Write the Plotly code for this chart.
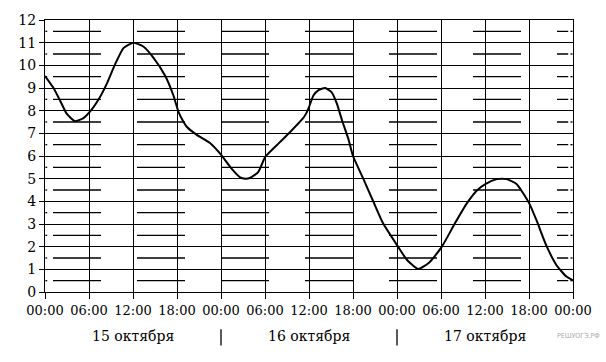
import plotly.graph_objects as go

# Data (hours since 00:00, 15 October) and temperature values
hours = [0, 1.1, 2.05, 2.95, 4.05, 5.2, 6.3, 7.5, 8.4, 9.55, 10.7, 12.05, 13.4, 14.8, 16.4,
         17.5, 18.2, 18.9, 19.3, 20.7, 22.5, 24.1, 25.5, 26.6, 27.3, 28.0, 29.1, 30.05, 32.0,
         33.4, 35.2, 35.6, 36.0, 36.6, 37.3, 38.2, 39.1, 39.8, 40.5, 41.4, 42.0, 43.4, 44.8,
         46.1, 48.1, 49.4, 50.9, 52.4, 54.1, 55.9, 57.5, 58.9, 60.1, 61.6, 62.3, 62.96, 64.3,
         66.05, 67.1, 68.4, 69.8, 71.1, 72.0]
values = [9.53, 9.03, 8.45, 7.87, 7.54, 7.66, 8.02, 8.6, 9.17, 10.04, 10.76, 11.0, 10.83, 10.33, 9.53,
          8.68, 7.95, 7.5, 7.3, 6.93, 6.57, 6.02, 5.42, 5.06, 5.0, 5.04, 5.3, 5.97, 6.6,
          7.05, 7.67, 7.87, 8.16, 8.67, 8.91, 9.0, 8.81, 8.31, 7.58, 6.72, 6.0, 5.0, 3.97,
          3.03, 2.02, 1.4, 1.02, 1.3, 1.99, 3.03, 3.9, 4.48, 4.77, 4.98, 5.0, 4.98, 4.77,
          3.9, 3.1, 2.02, 1.16, 0.68, 0.51]

tick_hours = list(range(0, 73, 6))
tick_labels = ["00:00", "06:00", "12:00", "18:00"] * 3 + ["00:00"]
day_labels = ["15 октября", "16 октября", "17 октября"]
day_centers = [12, 36, 60]
day_bounds = [24, 48]
half_levels = [i + 0.5 for i in range(12)]

FONT = "DejaVu Serif"
fig = go.Figure()

# half-unit dashed guide lines
for v in half_levels:
    fig.add_trace(go.Scatter(x=[1.09, 71.35], y=[v, v], mode="lines",
                             line=dict(color="black", width=1.3, dash="48px,36px"),
                             hoverinfo="skip", showlegend=False))
    fig.add_trace(go.Scatter(x=[0.05, 0.3, None, 71.65, 71.95], y=[v, v, None, v, v], mode="lines",
                             line=dict(color="black", width=1.3),
                             hoverinfo="skip", showlegend=False))

fig.add_trace(go.Scatter(x=hours, y=values, mode="lines",
                         line=dict(color="black", width=2, shape="spline", smoothing=0.5),
                         hoverinfo="skip", showlegend=False))

fig.update_layout(
    width=606, height=362,
    margin=dict(l=45, r=33, t=14, b=70),
    paper_bgcolor="white", plot_bgcolor="white",
    font=dict(family=FONT, size=14, color="black"),
    showlegend=False,
)
fig.update_xaxes(range=[0, 72], tickvals=tick_hours, ticktext=tick_labels,
                 showgrid=True, gridcolor="black", gridwidth=1.3,
                 showline=True, linecolor="black", linewidth=1.3, mirror=True,
                 ticks="outside", ticklen=6, tickcolor="black", tickwidth=1.3,
                 zeroline=False, tickfont=dict(family=FONT, size=13, color="black"))
fig.update_yaxes(range=[0, 12], tickvals=list(range(0, 13)),
                 showgrid=True, gridcolor="black", gridwidth=1.3,
                 showline=True, linecolor="black", linewidth=1.3, mirror=True,
                 ticks="outside", ticklen=5, tickcolor="black", tickwidth=1.3,
                 zeroline=False, tickfont=dict(family=FONT, size=14, color="black"))

for lbl, c in zip(day_labels, day_centers):
    fig.add_annotation(x=c, y=-0.162, xref="x", yref="paper", text=lbl, showarrow=False,
                       xanchor="center", yanchor="middle",
                       font=dict(family=FONT, size=14, color="black"))
for b in day_bounds:
    fig.add_shape(type="line", x0=b, x1=b, xref="x", y0=-0.197, y1=-0.137, yref="paper",
                  line=dict(color="black", width=1.3))

fig.add_annotation(x=1.011, y=-0.16, xref="paper", yref="paper", text="РЕШУОГЭ.РФ",
                   showarrow=False, xanchor="center", yanchor="middle",
                   font=dict(family="DejaVu Sans Condensed", size=7, color="#aaaaaa"))

fig.write_html("out.html")
